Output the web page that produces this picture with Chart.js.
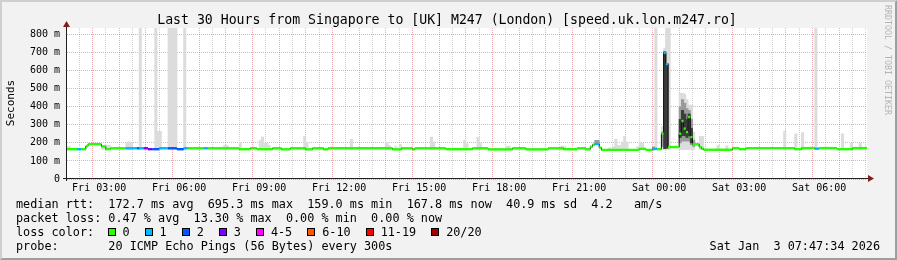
<!DOCTYPE html>
<html>
<head>
<meta charset="utf-8">
<title>speed.uk.lon.m247.ro</title>
<script src="https://cdn.jsdelivr.net/npm/chart.js@4.4.1/dist/chart.umd.min.js"></script>
<style>
  html, body { margin: 0; padding: 0; background: #f2f2f2; }
  canvas { display: block; }
</style>
</head>
<body>
<canvas id="smokeChart" width="897" height="260"></canvas>
<script>
'use strict';
// all times are minutes after Fri 00:00, one probe round every 300s
var startMin = 107.6;  // Fri 01:47:34
var endMin = 1907.6;   // Sat 07:47:34
var yMaxMs = 836;
var halfStep = 2.5;

// median rtt (ms), a new step starts at each time
var stepTimes = [105, 130, 140, 150, 155, 185, 195, 205, 240, 265,
  270, 280, 290, 300, 315, 335, 355, 370, 380, 415,
  425, 495, 520, 535, 570, 590, 610, 645, 660, 685,
  695, 840, 860, 885, 890, 960, 1020, 1055, 1110, 1140,
  1190, 1225, 1255, 1275, 1285, 1290, 1295, 1305, 1310, 1395,
  1410, 1425, 1435, 1445, 1450, 1455, 1460, 1485, 1490, 1495,
  1500, 1505, 1510, 1515, 1530, 1535, 1540, 1605, 1620, 1635,
  1745, 1760, 1790, 1800, 1840, 1875, 1910];
var medianMs = [165, 165, 165, 182, 193, 180, 165, 170, 170, 170,
  170, 170, 165, 165, 170, 170, 165, 170, 170, 170,
  170, 165, 170, 165, 170, 164, 170, 164, 170, 164,
  170, 164, 170, 164, 170, 165, 170, 164, 170, 164,
  170, 165, 170, 164, 178, 190, 194, 174, 161, 167,
  161, 167, 165, 252, 698, 636, 177, 251, 321, 279,
  260, 343, 232, 192, 177, 168, 162, 171, 165, 171,
  165, 171, 168, 171, 165, 171, 171];
// index into lossLabels for each step
var lossLevel = [0, 1, 0, 0, 0, 0, 0, 0, 1, 2,
  1, 3, 3, 2, 1, 2, 2, 1, 0, 1,
  0, 0, 0, 0, 0, 0, 0, 0, 0, 0,
  0, 0, 0, 0, 0, 0, 0, 0, 0, 0,
  0, 0, 0, 0, 0, 0, 1, 0, 0, 0,
  0, 1, 0, 0, 1, 1, 0, 0, 0, 0,
  0, 0, 0, 0, 0, 0, 0, 0, 0, 0,
  0, 0, 1, 0, 0, 0, 0];

// light smoke: highest ping of the round (ms)
var smokeFloor = 163;
var smokeTimes = [105, 110, 185, 190, 195, 200, 240, 245, 250, 270,
  305, 310, 315, 335, 340, 345, 350, 370, 460, 465,
  495, 540, 545, 550, 555, 560, 640, 645, 745, 825,
  830, 845, 855, 925, 930, 1000, 1005, 1030, 1035, 1095,
  1100, 1215, 1220, 1225, 1325, 1330, 1335, 1340, 1345, 1350,
  1355, 1360, 1365, 1390, 1395, 1400, 1430, 1445, 1450, 1455,
  1460, 1485, 1490, 1495, 1500, 1505, 1510, 1515, 1530, 1535,
  1570, 1590, 1720, 1745, 1760, 1790, 1850, 1870, 1890];
var smokeTop = [180, 180, 186, 186, 186, 186, 204, 206, 200, 836,
  836, 264, 264, 836, 836, 836, 836, 836, 186, 186,
  203, 214, 232, 199, 199, 186, 236, 203, 220, 203,
  186, 180, 192, 232, 205, 214, 195, 232, 199, 182,
  182, 180, 183, 180, 172, 172, 180, 220, 186, 186,
  205, 236, 205, 180, 205, 199, 836, 290, 725, 836,
  836, 475, 475, 470, 440, 410, 408, 260, 236, 236,
  186, 183, 264, 250, 257, 836, 250, 199, 199];

// denser smoke bands
var midTimes = [1295, 1300, 1425, 1445, 1485, 1490, 1495, 1500, 1505, 1510, 1515];
var midLow = [190, 190, 160, 180, 200, 210, 210, 210, 210, 190, 180];
var midHigh = [214, 214, 178, 260, 400, 440, 420, 390, 380, 330, 215];
var darkTimes = [1450, 1455, 1485, 1490, 1495, 1500, 1505, 1510];
var darkLow = [168, 170, 230, 240, 240, 230, 240, 200];
var darkHigh = [705, 640, 330, 380, 360, 330, 360, 280];

var lossLabels = ['0', '1', '2', '3', '4-5', '6-10', '11-19', '20/20'];
var lossColors = ['#26ff00', '#00b8ff', '#0059ff', '#7e00ff', '#ff00ff', '#ff5500', '#ff0000', '#a10000'];

var statLines = [
  'median rtt:  172.7 ms avg  695.3 ms max  159.0 ms min  167.8 ms now  40.9 ms sd  4.2   am/s',
  'packet loss: 0.47 % avg  13.30 % max  0.00 % min  0.00 % now',
  'loss color:',
  'probe:       20 ICMP Echo Pings (56 Bytes) every 300s'
];
var titleText = 'Last 30 Hours from Singapore to [UK] M247 (London) [speed.uk.lon.m247.ro]';
var stampText = 'Sat Jan  3 07:47:34 2026';

var MONO = '"DejaVu Sans Mono", "Liberation Mono", monospace';

// colored median: one short horizontal piece per step, the thin dark line joins them
var medianPoints = [];
var pointLoss = [];
for (var i = 0; i < stepTimes.length - 1; i++) {
  if (i > 0) {
    medianPoints.push({ x: stepTimes[i], y: null });
    pointLoss.push(lossLevel[i]);
  }
  medianPoints.push({ x: stepTimes[i], y: medianMs[i] });
  pointLoss.push(lossLevel[i]);
  medianPoints.push({ x: stepTimes[i + 1], y: medianMs[i] });
  pointLoss.push(lossLevel[i]);
}

function bars(times, lows, highs) {
  var out = [];
  for (var j = 0; j < times.length; j++) {
    var lo = Array.isArray(lows) ? lows[j] : lows;
    out.push({ x: times[j] + halfStep, y: [lo, highs[j]] });
  }
  return out;
}

function dayLabel(m) {
  var day = m < 1440 ? 'Fri' : 'Sat';
  var hh = Math.floor((m % 1440) / 60);
  return day + ' ' + (hh < 10 ? '0' : '') + hh + ':00';
}

var rrdDecor = {
  id: 'rrdDecor',
  beforeDraw: function (chart) {
    var c = chart.ctx, a = chart.chartArea, w = chart.width, h = chart.height;
    c.save();
    c.fillStyle = '#f2f2f2';
    c.fillRect(0, 0, w, h);
    c.fillStyle = '#cfcfcf';
    c.beginPath();
    c.moveTo(0, h); c.lineTo(2, h - 2); c.lineTo(2, 2); c.lineTo(w - 2, 2); c.lineTo(w, 0); c.lineTo(0, 0);
    c.closePath(); c.fill();
    c.fillStyle = '#9e9e9e';
    c.beginPath();
    c.moveTo(w, 0); c.lineTo(w - 2, 2); c.lineTo(w - 2, h - 2); c.lineTo(2, h - 2); c.lineTo(0, h); c.lineTo(w, h);
    c.closePath(); c.fill();
    c.fillStyle = '#ffffff';
    c.fillRect(a.left, a.top, a.right - a.left, a.bottom - a.top);
    c.restore();
  },
  afterDraw: function (chart) {
    var c = chart.ctx, a = chart.chartArea;
    var x0 = a.left - 0.5, y0 = a.bottom - 0.5;
    c.save();
    // axes
    c.strokeStyle = '#1f1f1f';
    c.lineWidth = 1;
    c.beginPath();
    c.moveTo(x0, a.bottom + 2); c.lineTo(x0, a.top - 2);
    c.moveTo(x0 - 3.5, y0); c.lineTo(a.right + 3, y0);
    c.stroke();
    c.fillStyle = '#801f1f';
    c.beginPath();
    c.moveTo(x0 - 3.5, a.top - 1); c.lineTo(x0 + 3.5, a.top - 1); c.lineTo(x0, a.top - 7);
    c.closePath(); c.fill();
    c.beginPath();
    c.moveTo(a.right + 1, y0 - 3.5); c.lineTo(a.right + 1, y0 + 3.5); c.lineTo(a.right + 7, y0);
    c.closePath(); c.fill();

    // title
    c.fillStyle = '#000';
    c.font = '13.2px ' + MONO;
    c.textAlign = 'center';
    c.textBaseline = 'alphabetic';
    c.fillText(titleText, 447, 24);

    // vertical labels
    c.save();
    c.translate(11, 103);
    c.rotate(-Math.PI / 2);
    c.font = '11px ' + MONO;
    c.textBaseline = 'middle';
    c.fillText('Seconds', 0, 0);
    c.restore();
    c.save();
    c.translate(887, 60);
    c.rotate(Math.PI / 2);
    c.font = '8.3px ' + MONO;
    c.fillStyle = '#b4b4b4';
    c.textBaseline = 'middle';
    c.fillText('RRDTOOL / TOBI OETIKER', 0, 0);
    c.restore();

    // statistics
    c.font = '11.8px ' + MONO;
    c.textAlign = 'left';
    c.fillStyle = '#000';
    var base = [208, 222, 236, 250];
    for (var k = 0; k < statLines.length; k++) {
      c.fillText(statLines[k], 16, base[k]);
    }
    var bx = 107.5;
    for (var n = 0; n < lossLabels.length; n++) {
      var px = Math.round(bx);
      c.fillStyle = lossColors[n];
      c.fillRect(px, 228, 8, 8);
      c.strokeStyle = '#000';
      c.strokeRect(px + 0.5, 228.5, 7, 7);
      c.fillStyle = '#000';
      c.fillText(lossLabels[n], bx + 15, 236);
      bx += 30 + c.measureText(lossLabels[n]).width;
    }
    c.textAlign = 'right';
    c.fillText(stampText, 880, 250);
    c.restore();
  }
};

var MAJOR = 'rgba(226, 90, 90, 0.5)';
var MINOR = 'rgba(150, 150, 150, 0.45)';

Chart.defaults.font.family = MONO;
Chart.defaults.color = '#000';

var chart = new Chart(document.getElementById('smokeChart').getContext('2d'), {
  type: 'line',
  data: {
    datasets: [{
      data: medianPoints,
      borderWidth: 2.4,
      borderCapStyle: 'butt',
      pointRadius: 0,
      spanGaps: false,
      segment: {
        borderColor: function (ctx) { return lossColors[pointLoss[ctx.p0DataIndex]]; }
      },
      borderColor: lossColors[0],
      order: 0
    }, {
      data: stepTimes.map(function (t, j) { return { x: t, y: medianMs[j] }; }),
      borderColor: '#111',
      borderWidth: 1,
      pointRadius: 0,
      stepped: true,
      order: 1
    }, {
      type: 'bar',
      data: bars(darkTimes, darkLow, darkHigh),
      backgroundColor: '#3c3c3c',
      borderWidth: 0,
      barThickness: 2.4,
      grouped: false,
      order: 2
    }, {
      type: 'bar',
      data: bars(midTimes, midLow, midHigh),
      backgroundColor: '#9a9a9a',
      borderWidth: 0,
      barThickness: 2.4,
      grouped: false,
      order: 3
    }, {
      type: 'bar',
      data: bars(smokeTimes, smokeFloor, smokeTop),
      backgroundColor: '#dcdcdc',
      borderWidth: 0,
      barThickness: 2.4,
      grouped: false,
      order: 4
    }]
  },
  options: {
    responsive: false,
    animation: false,
    devicePixelRatio: 1,
    events: [],
    layout: { padding: { left: 0, top: 28, right: 30, bottom: 0 } },
    plugins: { legend: { display: false }, tooltip: { enabled: false }, title: { display: false } },
    scales: {
      x: {
        type: 'linear',
        min: startMin,
        max: endMin,
        offset: false,
        afterFit: function (scale) { scale.height = 81; },
        afterBuildTicks: function (scale) {
          var t = [];
          for (var m = 120; m <= 1890; m += 30) t.push({ value: m });
          scale.ticks = t;
        },
        ticks: {
          autoSkip: false,
          maxRotation: 0,
          padding: 3,
          font: { size: 10 },
          callback: function (v) { return v % 180 === 0 ? dayLabel(v) : ''; }
        },
        grid: {
          drawTicks: false,
          color: function (ctx) { return ctx.tick && ctx.tick.value % 60 === 0 ? MAJOR : MINOR; }
        },
        border: { display: false, dash: [1, 1] }
      },
      y: {
        min: 0,
        max: yMaxMs,
        afterFit: function (scale) { scale.width = 67; },
        ticks: {
          stepSize: 50,
          includeBounds: false,
          padding: 7,
          font: { size: 10 },
          callback: function (v) { return v % 100 === 0 ? (v === 0 ? '0' : v + ' m') : ''; }
        },
        grid: {
          drawTicks: false,
          color: function (ctx) { return ctx.tick && ctx.tick.value % 100 === 0 ? MAJOR : MINOR; }
        },
        border: { display: false, dash: [1, 1] }
      }
    }
  },
  plugins: [rrdDecor]
});
</script>
</body>
</html>
